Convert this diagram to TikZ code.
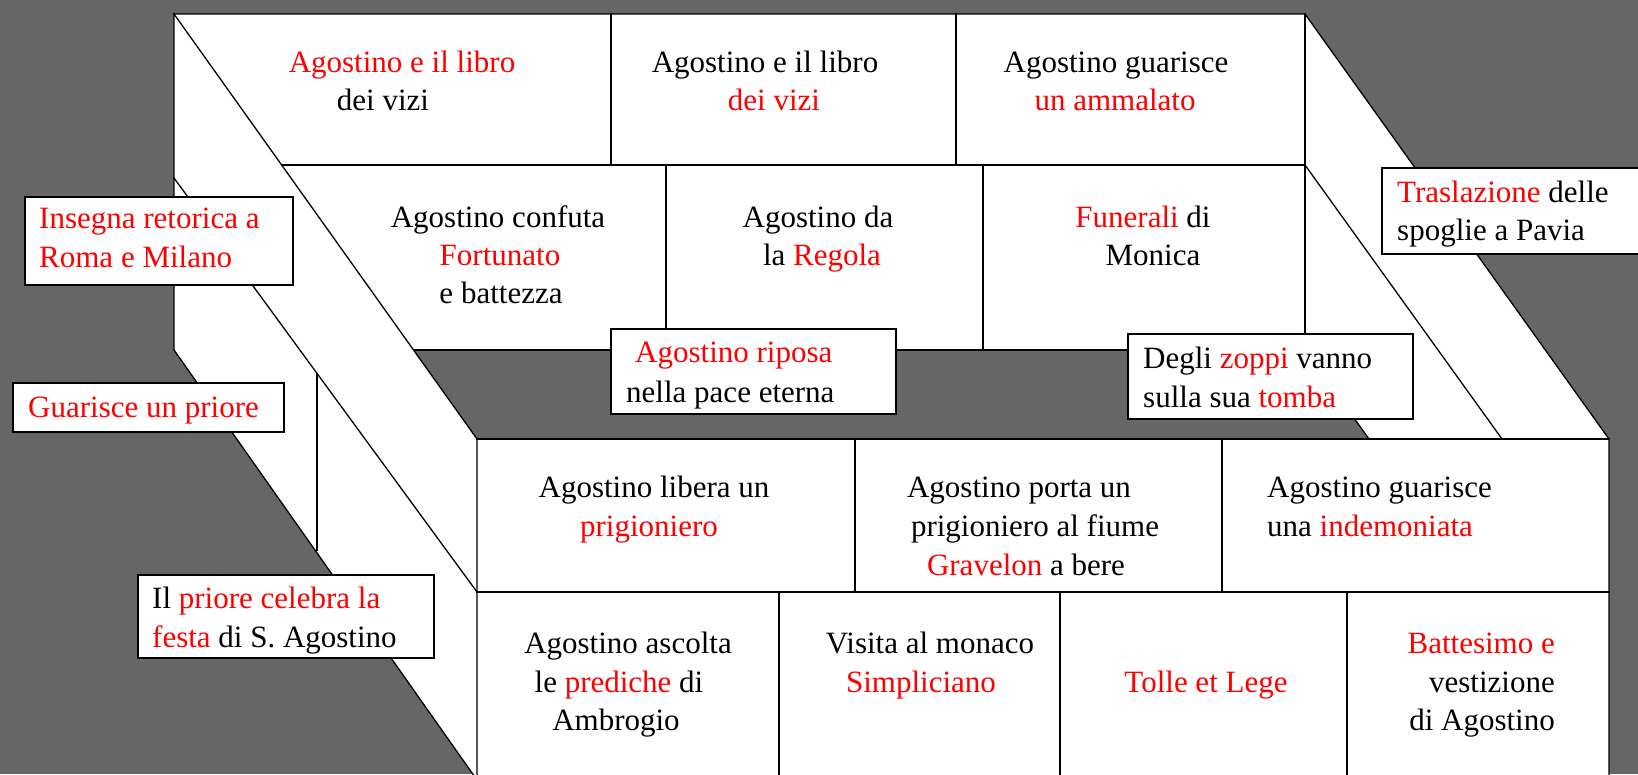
\documentclass[tikz,border=0pt]{standalone}
\usepackage{fontspec}
\setmainfont{Liberation Serif}
\definecolor{bg}{HTML}{666666}
\definecolor{rd}{HTML}{FF0000}
\newcommand{\rr}[1]{\textcolor{rd}{#1}}
\begin{document}
\begin{tikzpicture}[x=1pt,y=-1pt,
  t/.style={font=\fontsize{31}{38}\selectfont, inner sep=0pt, anchor=base},
  tw/.style={t, anchor=base west},
  te/.style={t, anchor=base east},
  ln/.style={line width=1.3pt, line join=miter, line cap=rect},
  boxst/.style={draw, fill=white, line width=2pt}]
\useasboundingbox (0,0) rectangle (1638,774);
\clip (0,0) rectangle (1638,774);
% background
\fill[bg] (0,0) rectangle (1638,774);
% structure outline
\fill[white] (174,14) -- (1305,14) -- (1609,439) -- (1609,780) -- (477,780) -- (174,350) -- cycle;
% floor
\fill[bg] (413.5,350) -- (1305,350) -- (1369,439) -- (477,439) -- cycle;
% coordinates
\coordinate (TL) at (174,14);
\coordinate (TR) at (1305,14);
\coordinate (LB) at (174,350);
\coordinate (FL) at (477,439);
\coordinate (FR) at (1609,439);
\coordinate (BL) at (477,780);
\coordinate (BR) at (1609,780);
% outer edges
\draw[ln] (TL) -- (TR) -- (FR) -- (BR);
\draw[ln] (TL) -- (LB) -- (BL);
\draw[ln] (TL) -- (FL) -- (BL);
% back block
\draw[ln] (TR) -- (1305,350);
\draw[ln] (281.6,165) -- (1305,165);
\draw[ln] (413.5,350) -- (1305,350);
\draw[ln] (611,14) -- (611,165);
\draw[ln] (956,14) -- (956,165);
\draw[ln] (666,165) -- (666,350);
\draw[ln] (983,165) -- (983,350);
% right wing
\draw[ln] (1305,165) -- (1502,439);
\draw[ln] (1305,350) -- (1369,439);
% left wing
\draw[ln] (174,178) -- (477,592);
\draw[ln] (317,373.4) -- (317,550);
% front block
\draw[ln] (FL) -- (FR);
\draw[ln] (477,592) -- (1609,592);
\draw[ln] (855,439) -- (855,592);
\draw[ln] (1222,439) -- (1222,592);
\draw[ln] (779,592) -- (779,780);
\draw[ln] (1060,592) -- (1060,780);
\draw[ln] (1347,592) -- (1347,780);

% back row 1
\node[t] (a1) at (402,72) {\rr{Agostino e il libro}};
\node[t] (a2) at (383,110) {dei vizi};
\node[t] (b1) at (765,72) {Agostino e il libro};
\node[t] (b2) at (774,110) {\rr{dei vizi}};
\node[t] (c1) at (1116,72) {Agostino guarisce};
\node[t] (c2) at (1115,110) {\rr{un ammalato}};
% back row 2
\node[t] (d1) at (498,227) {Agostino confuta};
\node[t] (d2) at (500,265) {\rr{Fortunato}};
\node[t] (d3) at (501,303) {e battezza};
\node[t] (e1) at (818,227) {Agostino da};
\node[t] (e2) at (822,265) {la \rr{Regola}};
\node[t] (f1) at (1143,227) {\rr{Funerali} di};
\node[t] (f2) at (1153,265) {Monica};
% front row 1
\node[t] (g1) at (654,497) {Agostino libera un};
\node[t] (g2) at (649,536) {\rr{prigioniero}};
\node[t] (h1) at (1019,497) {Agostino porta un};
\node[t] (h2) at (1035,536) {prigioniero al fiume};
\node[t] (h3) at (1026,575) {\rr{Gravelon} a bere};
\node[tw] (i1) at (1267,497) {Agostino guarisce};
\node[tw] (i2) at (1267,536) {una \rr{indemoniata}};
% front row 2
\node[t] (j1) at (628,653) {Agostino ascolta};
\node[t] (j2) at (619,692) {le \rr{prediche} di};
\node[t] (j3) at (616,730) {Ambrogio};
\node[t] (k1) at (930,653) {Visita al monaco};
\node[t] (k2) at (921,692) {\rr{Simpliciano}};
\node[t] (l1) at (1206,692) {\rr{Tolle et Lege}};
\node[te] (m1) at (1555,653) {\rr{Battesimo e}};
\node[te] (m2) at (1555,692) {vestizione};
\node[te] (m3) at (1555,730) {di Agostino};

% labels in boxes
\draw[boxst] (25,197) rectangle (293,285);
\node[tw] (n1) at (39,228) {\rr{Insegna retorica a}};
\node[tw] (n2) at (39,267) {\rr{Roma e Milano}};
\draw[boxst] (13,383) rectangle (284,432);
\node[tw] (o1) at (28,417) {\rr{Guarisce un priore}};
\draw[boxst] (138,575) rectangle (434,658);
\node[tw] (p1) at (152,608) {Il \rr{priore celebra la}};
\node[tw] (p2) at (152,647) {\rr{festa} di S. Agostino};
\draw[boxst] (611,329) rectangle (896,414);
\node[tw] (q1) at (635,362) {\rr{Agostino riposa}};
\node[tw] (q2) at (626,402) {nella pace eterna};
\draw[boxst] (1128,334) rectangle (1413,419);
\node[tw] (r1) at (1143,368) {Degli \rr{zoppi} vanno};
\node[tw] (r2) at (1143,407) {sulla sua \rr{tomba}};
\draw[boxst] (1382,168) rectangle (1650,254);
\node[tw] (s1) at (1397,202) {\rr{Traslazione} delle};
\node[tw] (s2) at (1397,240) {spoglie a Pavia};
\end{tikzpicture}
\end{document}
